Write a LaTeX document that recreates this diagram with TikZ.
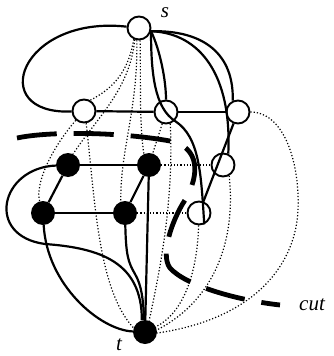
\documentclass[tikz,border=0pt]{standalone}
\usepackage{fontspec}
\setmainfont{Liberation Serif}
\begin{document}
\begin{tikzpicture}[x=1pt,y=-1pt,
  whitenode/.style={circle,draw,line width=1.9pt,minimum size=23pt,inner sep=0pt},
  blacknode/.style={circle,fill,minimum size=24pt,inner sep=0pt},
  solidedge/.style={line width=2.2pt},
  dual/.style={line width=1.2pt,dash pattern=on 1.2pt off 2pt},
  cutline/.style={line width=4.8pt,dash pattern=on 40pt off 17pt},
  lbl/.style={font=\fontsize{21}{23}\selectfont\itshape,inner sep=0pt}]
\useasboundingbox (0,0) rectangle (333,356);
\node[whitenode] (s) at (139,28) {};
\node[whitenode] (a) at (84,111) {};
\node[whitenode] (b) at (166,112) {};
\node[whitenode] (c) at (238,112) {};
\node[whitenode] (d) at (223,165) {};
\node[whitenode] (e) at (199,213) {};
\node[blacknode] (f) at (68,165) {};
\node[blacknode] (g) at (149,165) {};
\node[blacknode] (h) at (43,213) {};
\node[blacknode] (i) at (125,213) {};
\node[blacknode] (t) at (145,332) {};
\node[lbl] (ls) at (165,13) {s};
\node[lbl,anchor=base] (lt) at (119,350) {t};
\node[lbl,anchor=base west] (lc) at (299,310) {cut};
% solid edges
\draw[solidedge] (s) .. controls (20,15) and (-15,115) .. (a);
\draw[solidedge] (a) -- (b);
\draw[solidedge] (b) -- (c);
\draw[solidedge] (s.-15) .. controls (160,50) and (166,80) .. (b.north);
\draw[solidedge] (s.-15) .. controls (151,75) and (155,108) .. (175,121) .. controls (200,137) and (201,175) .. (e.-65);
\draw[solidedge] (s.-15) .. controls (205,30) and (234,55) .. (c.115);
\draw[solidedge] (s.-15) .. controls (200,33) and (232,75) .. (d.65);
\draw[solidedge] (c) -- (e);
\draw[solidedge] (f) -- (g);
\draw[solidedge] (h) -- (i);
\draw[solidedge] (f) -- (h);
\draw[solidedge] (g) -- (i);
\draw[solidedge] (g) -- (t);
\draw[solidedge] (i) .. controls (126,255) and (128,262) .. (135,274) .. controls (142,286) and (143,300) .. (t);
\draw[solidedge] (h) .. controls (47,285) and (100,330) .. (t);
\draw[solidedge] (f) .. controls (0,168) and (-15,236) .. (45,244) .. controls (100,248) and (142,262) .. (t.105);
% dotted edges
\draw[dual] (s.-115) .. controls (128,75) and (110,90) .. (a.60);
\draw[dual] (a) .. controls (50,150) and (35,185) .. (h);
\draw[dual] (s.-110) .. controls (130,90) and (95,120) .. (f.65);
\draw[dual] (s.-100) .. controls (138,110) and (120,150) .. (i.110);
\draw[dual] (s.-85) .. controls (141,80) and (139,120) .. (g.115);
\draw[dual] (a.-80) .. controls (95,200) and (98,290) .. (t.160);
\draw[dual] (b) -- (g);
\draw[dual] (b.-70) .. controls (174,200) and (160,270) .. (t.70);
\draw[dual] (g) -- (d);
\draw[dual] (i) -- (e);
\draw[dual] (e) .. controls (197,280) and (180,315) .. (t);
\draw[dual] (d.-60) .. controls (236,240) and (215,300) .. (t.10);
\draw[dual] (c.east) .. controls (285,112) and (300,165) .. (298,210) .. controls (296,260) and (260,318) .. (t.-5);
% cut
\draw[cutline] (17,138) .. controls (50,131) and (120,132) .. (170,141) .. controls (200,147) and (200,175) .. (185,200) .. controls (172,220) and (160,255) .. (170,268) .. controls (185,285) and (235,300) .. (280,305);
\end{tikzpicture}
\end{document}
